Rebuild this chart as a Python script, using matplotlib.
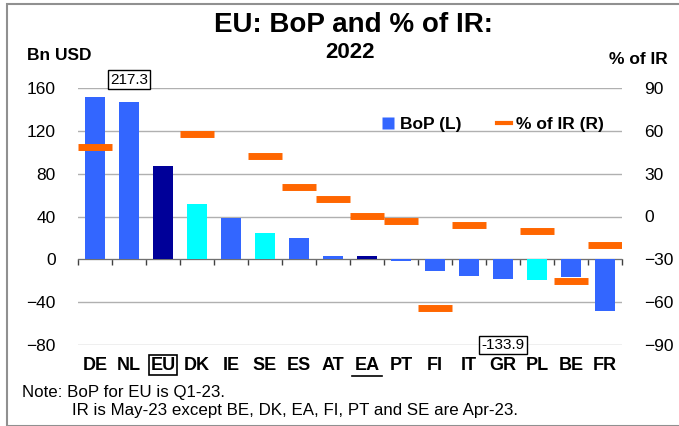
import numpy as np
import matplotlib
matplotlib.use('Agg')
import matplotlib.pyplot as plt
from matplotlib.patches import Rectangle
from matplotlib.lines import Line2D
import matplotlib.transforms as mtrans

plt.rcParams['font.family'] = ['Liberation Sans', 'DejaVu Sans']

# data
countries = ['DE', 'NL', 'EU', 'DK', 'IE', 'SE', 'ES', 'AT', 'EA', 'PT', 'FI', 'IT', 'GR', 'PL', 'BE', 'FR']
bop = [152, 147, 87.5, 52, 39, 25, 19.6, 3.5, 3.5, -1.5, -11, -16, -18.7, -19.2, -16.8, -47.9]
pct_ir = [48.7, np.nan, np.nan, 57.5, np.nan, 42.4, 20.4, 12.5, 0.3, -3, -64.3, -6, np.nan, -10, -45.2, -20]
bar_colors = ['#3366FF', '#3366FF', '#000099', '#00FFFF', '#3366FF', '#00FFFF', '#3366FF', '#3366FF',
              '#000099', '#3366FF', '#3366FF', '#3366FF', '#3366FF', '#00FFFF', '#3366FF', '#3366FF']
left_ticks = [-80, -40, 0, 40, 80, 120, 160]
right_ticks = [-90, -60, -30, 0, 30, 60, 90]
# values shown in boxes (off-scale figures), keyed by category
box_labels = {'NL': ('217.3', 167.7), 'GR': ('-133.9', -80)}

fig = plt.figure(figsize=(6.79, 4.26), dpi=100)
ax = fig.add_axes([78 / 679, 1 - 345 / 426, 544 / 679, 257 / 426])
ax2 = ax.twinx()

x = np.arange(len(countries))
ax.bar(x, bop, width=0.58, color=bar_colors, zorder=3)
ax.set_xlim(-0.5, len(countries) - 0.5)
ax.set_ylim(-80, 160)
ax.set_yticks(left_ticks)
ax.tick_params(axis='y', length=0, pad=16, labelsize=12.5)
ax.yaxis.grid(True, color='#b0b0b0', lw=1)
ax.set_axisbelow(True)
for s in ['left', 'right', 'top']:
    ax.spines[s].set_visible(False)
ax.spines['bottom'].set_position(('data', 0))
ax.spines['bottom'].set_color('#707070')
ax.set_xticks(np.arange(len(countries) + 1) - 0.5)
ax.set_xticklabels([])
ax.tick_params(axis='x', length=4, width=1, color='#404040', direction='out')

# % of IR as short horizontal dashes
ax2.hlines(pct_ir, x - 0.5, x + 0.5, color='#FF6600', lw=5, zorder=4)
ax2.set_ylim(-90, 90)
ax2.set_yticks(right_ticks)
ax2.tick_params(axis='y', length=0, pad=16, labelsize=12.5)
for s in ['left', 'right', 'top', 'bottom']:
    ax2.spines[s].set_visible(False)

# category labels
tr = mtrans.blended_transform_factory(ax.transData, ax.transAxes)
for i, c in enumerate(countries):
    kw = {}
    if c == 'EU':
        kw['bbox'] = dict(boxstyle='square,pad=0.1', fc='none', ec='black', lw=1.2)
    ax.text(i, -0.078, c, transform=tr, ha='center', va='center', fontsize=13, fontweight='bold', **kw)
    if c == 'EA':
        ax.plot([i - 0.45, i + 0.45], [-0.122, -0.122], transform=tr, color='black', lw=1.2, clip_on=False)

# out-of-range value boxes
box = dict(boxstyle='square,pad=0.15', fc='white', ec='black', lw=1)
for c, (txt, yv) in box_labels.items():
    ax.text(countries.index(c), yv, txt, ha='center', va='center', fontsize=11, bbox=box,
            clip_on=False, zorder=5)

handles = [Line2D([], [], marker='s', color='none', markerfacecolor='#3366FF', markeredgecolor='none', markersize=8),
           Line2D([], [], color='#FF6600', lw=3)]
ax2.legend(handles, ['BoP (L)', '% of IR (R)'], loc='upper right', bbox_to_anchor=(0.995, 0.95), ncol=2,
           frameon=False, handlelength=0.8, handletextpad=0.3, columnspacing=2.0,
           prop={'weight': 'bold', 'size': 12.5})

fig.text(353 / 679, 1 - 25 / 426, 'EU: BoP and % of IR:', ha='center', va='center', fontsize=20, fontweight='bold')
fig.text(350 / 679, 1 - 53 / 426, '2022', ha='center', va='center', fontsize=16, fontweight='bold')
fig.text(27 / 679, 1 - 55 / 426, 'Bn USD', ha='left', va='center', fontsize=12.5, fontweight='bold')
fig.text(668 / 679, 1 - 60 / 426, '% of IR', ha='right', va='center', fontsize=12.5, fontweight='bold')
fig.text(22 / 679, 1 - 392 / 426, 'Note: BoP for EU is Q1-23.', ha='left', va='center', fontsize=12.2)
fig.text(72 / 679, 1 - 410 / 426, 'IR is May-23 except BE, DK, EA, FI, PT and SE are Apr-23.',
         ha='left', va='center', fontsize=12.2)

fig.patches.append(Rectangle((7 / 679, 0), 1, 1 - 4 / 426, transform=fig.transFigure, fill=False,
                             ec='#909090', lw=1.5))

fig.savefig('out.png', dpi=100)
